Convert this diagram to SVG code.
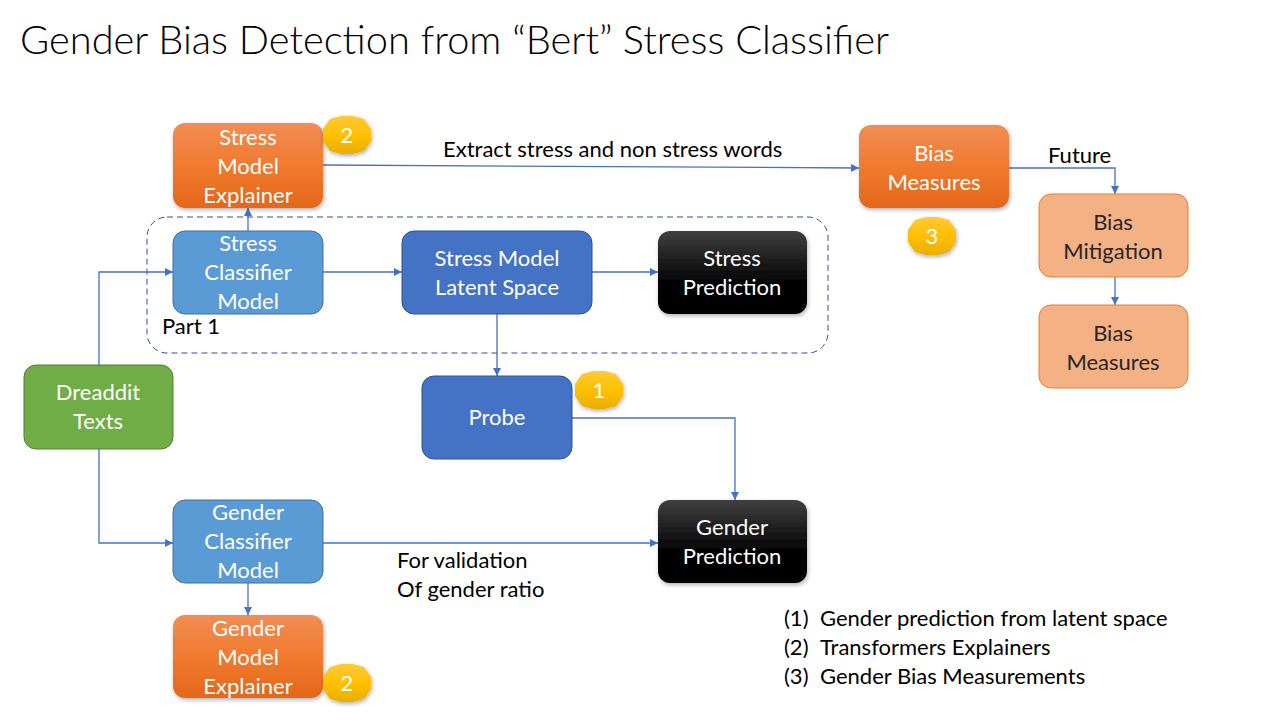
<svg xmlns="http://www.w3.org/2000/svg" width="1280" height="720" viewBox="0 0 1280 720">
<defs>
<linearGradient id="gOrange" x1="0" y1="0" x2="0" y2="1"><stop offset="0" stop-color="#F18D55"/><stop offset="0.5" stop-color="#F07A2E"/><stop offset="1" stop-color="#E4671A"/></linearGradient>
<linearGradient id="gBlack" x1="0" y1="0" x2="0" y2="1"><stop offset="0" stop-color="#404040"/><stop offset="0.65" stop-color="#000"/><stop offset="1" stop-color="#000"/></linearGradient>
<linearGradient id="gYellow" x1="0" y1="0" x2="0" y2="1"><stop offset="0" stop-color="#FFC93A"/><stop offset="0.5" stop-color="#FFC000"/><stop offset="1" stop-color="#E9AE00"/></linearGradient>
<filter id="sh" x="-10%" y="-10%" width="130%" height="140%"><feDropShadow dx="1" dy="2" stdDeviation="2" flood-color="#000" flood-opacity="0.3"/></filter>
<marker id="arr" viewBox="0 0 10 10" refX="10" refY="5" markerWidth="8" markerHeight="8" markerUnits="userSpaceOnUse" orient="auto"><path d="M0,0 L10,5 L0,10 z" fill="#4472C4"/></marker>
<polygon id="badge" points="-24,-6 -17,-16 -6,-19 6,-19 17,-16 24,-6 24,6 17,16 6,19 -6,19 -17,16 -24,6"/>
</defs>
<style>
.t{font-family:Lato,"Liberation Sans",sans-serif;}
.nt{font-family:Lato,"Liberation Sans",sans-serif;font-size:22px;fill:#fff;text-anchor:middle;}
.dk{fill:#262626;}
.lb{font-family:Lato,"Liberation Sans",sans-serif;font-size:22px;fill:#000;}
.c{fill:none;stroke:#4472C4;stroke-width:1.3;}
.or{fill:url(#gOrange);filter:url(#sh);}
.lbl{fill:#5B9BD5;stroke:#41719C;stroke-width:1;}
.blu{fill:#4472C4;stroke:#2F528F;stroke-width:1;}
.blk{fill:url(#gBlack);filter:url(#sh);}
.grn{fill:#70AD47;stroke:#507E32;stroke-width:1;}
.pch{fill:#F4B183;stroke:#ED7D31;stroke-width:1;}
.bd{fill:url(#gYellow);filter:url(#sh);}
.bt{font-family:Lato,"Liberation Sans",sans-serif;font-size:22px;fill:#fff;text-anchor:middle;}
</style>
<rect width="1280" height="720" fill="#fff"/>
<text class="t" x="20" y="54" font-size="39.8" font-weight="300" fill="#000">Gender Bias Detection from “Bert” Stress Classifier</text>

<rect x="147" y="217" width="681" height="136" rx="20" fill="none" stroke="#2F528F" stroke-width="1" stroke-dasharray="6,4"/>
<text class="lb" x="162" y="334">Part 1</text>

<g id="connectors">
<path class="c" d="M323,165 L859,168" marker-end="url(#arr)"/>
<path class="c" d="M248,231 L248,208" marker-end="url(#arr)"/>
<path class="c" d="M99,365 L99,272 L173,272" marker-end="url(#arr)"/>
<path class="c" d="M99,449 L99,543 L173,543" marker-end="url(#arr)"/>
<path class="c" d="M323,272 L402,272" marker-end="url(#arr)"/>
<path class="c" d="M592,272 L658,272" marker-end="url(#arr)"/>
<path class="c" d="M497,314 L497,376" marker-end="url(#arr)"/>
<path class="c" d="M572,418 L735,418 L735,500" marker-end="url(#arr)"/>
<path class="c" d="M323,543 L658,543" marker-end="url(#arr)"/>
<path class="c" d="M248,583 L248,615" marker-end="url(#arr)"/>
<path class="c" d="M1009,168 L1115,168 L1115,194" marker-end="url(#arr)"/>
<path class="c" d="M1115,277 L1115,305" marker-end="url(#arr)"/>
<text class="lb" x="443" y="157">Extract stress and non stress words</text>
<text class="lb" x="1048" y="163">Future</text>
<text class="lb" x="397" y="568">For validation</text>
<text class="lb" x="397" y="597">Of gender ratio</text>
</g>

<g id="stress-explainer">
<rect class="or" x="173" y="123" width="150" height="85" rx="12"/>
<text class="nt" x="248" y="145">Stress</text><text class="nt" x="248" y="174">Model</text><text class="nt" x="248" y="203">Explainer</text>
</g>
<g id="badge-2a"><use href="#badge" class="bd" x="347" y="135"/><text class="bt" x="347" y="143">2</text></g>

<g id="stress-classifier">
<rect class="lbl" x="173" y="231" width="150" height="83" rx="12"/>
<text class="nt" x="248" y="251">Stress</text><text class="nt" x="248" y="280">Classifier</text><text class="nt" x="248" y="309">Model</text>
</g>
<g id="latent-space">
<rect class="blu" x="402" y="231" width="190" height="83" rx="12"/>
<text class="nt" x="497" y="266">Stress Model</text><text class="nt" x="497" y="295">Latent Space</text>
</g>
<g id="stress-prediction">
<rect class="blk" x="658" y="231" width="149" height="83" rx="12"/>
<text class="nt" x="732" y="266">Stress</text><text class="nt" x="732" y="295">Prediction</text>
</g>
<g id="dreaddit">
<rect class="grn" x="24" y="365" width="149" height="84" rx="12"/>
<text class="nt" x="98" y="400">Dreaddit</text><text class="nt" x="98" y="429">Texts</text>
</g>
<g id="probe">
<rect class="blu" x="422" y="376" width="150" height="83" rx="12"/>
<text class="nt" x="497" y="425">Probe</text>
</g>
<g id="badge-1"><use href="#badge" class="bd" x="599" y="390"/><text class="bt" x="599" y="398">1</text></g>
<g id="gender-classifier">
<rect class="lbl" x="173" y="500" width="150" height="83" rx="12"/>
<text class="nt" x="248" y="520">Gender</text><text class="nt" x="248" y="549">Classifier</text><text class="nt" x="248" y="578">Model</text>
</g>
<g id="gender-prediction">
<rect class="blk" x="658" y="500" width="149" height="83" rx="12"/>
<text class="nt" x="732" y="535">Gender</text><text class="nt" x="732" y="564">Prediction</text>
</g>
<g id="gender-explainer">
<rect class="or" x="173" y="615" width="150" height="83" rx="12"/>
<text class="nt" x="248" y="636">Gender</text><text class="nt" x="248" y="665">Model</text><text class="nt" x="248" y="694">Explainer</text>
</g>
<g id="badge-2b"><use href="#badge" class="bd" x="347" y="683"/><text class="bt" x="347" y="691">2</text></g>
<g id="bias-measures-1">
<rect class="or" x="859" y="125" width="150" height="83" rx="12"/>
<text class="nt" x="934" y="161">Bias</text><text class="nt" x="934" y="190">Measures</text>
</g>
<g id="badge-3"><use href="#badge" class="bd" x="932" y="236"/><text class="bt" x="932" y="244">3</text></g>
<g id="bias-mitigation">
<rect class="pch" x="1039" y="194" width="149" height="83" rx="12"/>
<text class="nt dk" x="1113" y="230">Bias</text><text class="nt dk" x="1113" y="259">Mitigation</text>
</g>
<g id="bias-measures-2">
<rect class="pch" x="1039" y="305" width="149" height="83" rx="12"/>
<text class="nt dk" x="1113" y="341">Bias</text><text class="nt dk" x="1113" y="370">Measures</text>
</g>
<g id="legend">
<text class="lb" x="784" y="626">(1)</text><text class="lb" x="820" y="626">Gender prediction from latent space</text>
<text class="lb" x="784" y="655">(2)</text><text class="lb" x="820" y="655">Transformers Explainers</text>
<text class="lb" x="784" y="684">(3)</text><text class="lb" x="820" y="684">Gender Bias Measurements</text>
</g>
</svg>
